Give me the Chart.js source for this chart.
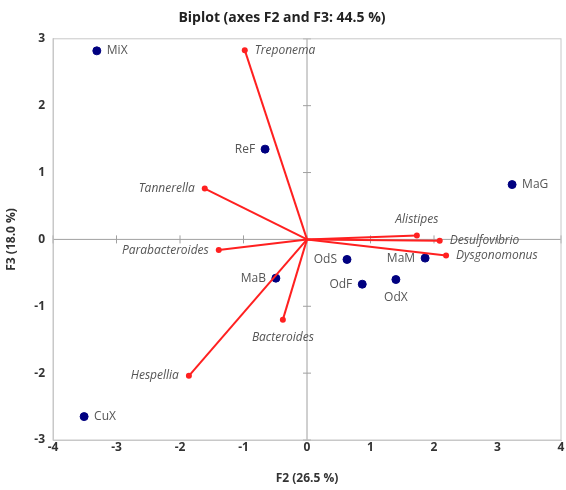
<!DOCTYPE html>
<html>
<head>
<meta charset="utf-8">
<script src="https://cdn.jsdelivr.net/npm/chart.js@4"></script>
<style>
  html, body { margin: 0; padding: 0; background: #fff; }
  #wrap { width: 566px; height: 490px; }
</style>
</head>
<body>
<div id="wrap"><canvas id="biplot"></canvas></div>
<script>
// observations (F2, F3)
const obsNames = ["MiX", "ReF", "MaG", "MaB", "OdS", "OdF", "MaM", "OdX", "CuX"];
const obsF2 = [-3.31, -0.66, 3.23, -0.49, 0.63, 0.87, 1.86, 1.40, -3.51];
const obsF3 = [2.82, 1.35, 0.82, -0.58, -0.30, -0.67, -0.28, -0.60, -2.65];
const obsLabelPos = ["right", "left", "right", "left", "left", "left", "left", "below", "right"];

// variables (F2, F3)
const varNames = ["Treponema", "Tannerella", "Parabacteroides", "Hespellia", "Bacteroides", "Alistipes", "Desulfovibrio", "Dysgonomonus"];
const varF2 = [-0.98, -1.61, -1.39, -1.86, -0.38, 1.73, 2.09, 2.19];
const varF3 = [2.83, 0.76, -0.16, -2.04, -1.20, 0.06, -0.02, -0.24];
const varLabelPos = ["right", "left", "left", "left", "below", "above", "right", "right"];

const xTicks = [-4, -3, -2, -1, 0, 1, 2, 3, 4];
const yTicks = [-3, -2, -1, 0, 1, 2, 3];

document.addEventListener("DOMContentLoaded", () => {
  const datasets = [];

  // arrows from origin
  varNames.forEach((name, i) => {
    datasets.push({
      type: "line",
      label: name,
      data: [{ x: 0, y: 0 }, { x: varF2[i], y: varF3[i] }],
      borderColor: "#ff2020",
      backgroundColor: "#ff2020",
      borderWidth: 2,
      pointRadius: [0, 3],
      pointBorderWidth: 0,
      labelPos: ["", varLabelPos[i]],
      labelText: ["", name],
      labelFont: "italic 12px 'Open Sans'",
      labelColor: "#555555",
    });
  });

  datasets.push({
    type: "scatter",
    label: "Observations",
    data: obsNames.map((n, i) => ({ x: obsF2[i], y: obsF3[i] })),
    backgroundColor: "#000080",
    borderColor: "#000080",
    pointRadius: 4,
    labelPos: obsLabelPos,
    labelText: obsNames,
    labelFont: "12px 'Open Sans'",
    labelColor: "#555555",
  });

  // zero axes with small tick marks
  const zeroAxes = {
    id: "zeroAxes",
    beforeDatasetsDraw(chart) {
      const { ctx, chartArea: a, scales: { x, y } } = chart;
      const x0 = x.getPixelForValue(0);
      const y0 = y.getPixelForValue(0);
      ctx.save();
      ctx.strokeStyle = "#a0a0a0";
      ctx.lineWidth = 1;
      ctx.beginPath();
      ctx.moveTo(a.left, y0); ctx.lineTo(a.right, y0);
      ctx.moveTo(x0, a.top); ctx.lineTo(x0, a.bottom);
      xTicks.forEach(v => {
        const px = x.getPixelForValue(v);
        ctx.moveTo(px, y0 - 4); ctx.lineTo(px, y0 + 4);
      });
      yTicks.forEach(v => {
        const py = y.getPixelForValue(v);
        ctx.moveTo(x0 - 4, py); ctx.lineTo(x0 + 4, py);
      });
      ctx.stroke();
      ctx.restore();
    }
  };

  // text labels next to points
  const pointLabels = {
    id: "pointLabels",
    afterDatasetsDraw(chart) {
      const ctx = chart.ctx;
      chart.data.datasets.forEach((ds, di) => {
        const meta = chart.getDatasetMeta(di);
        ctx.save();
        ctx.font = ds.labelFont;
        ctx.fillStyle = ds.labelColor;
        meta.data.forEach((pt, i) => {
          const txt = ds.labelText[i];
          if (!txt) return;
          const pos = ds.labelPos[i];
          let tx = pt.x, ty = pt.y;
          if (pos === "right") { ctx.textAlign = "left"; ctx.textBaseline = "middle"; tx += 10; }
          else if (pos === "left") { ctx.textAlign = "right"; ctx.textBaseline = "middle"; tx -= 10; }
          else if (pos === "below") { ctx.textAlign = "center"; ctx.textBaseline = "top"; ty += 12; }
          else if (pos === "above") { ctx.textAlign = "center"; ctx.textBaseline = "bottom"; ty -= 10; }
          ctx.fillText(txt, tx, ty);
        });
        ctx.restore();
      });
    }
  };

  const tickFont = { family: "'Open Sans'", size: 12, weight: "bold" };

  new Chart(document.getElementById("biplot"), {
    type: "scatter",
    data: { datasets },
    options: {
      responsive: true,
      maintainAspectRatio: false,
      animation: false,
      layout: { padding: { left: 0, right: 2, top: 0, bottom: 0 } },
      plugins: {
        legend: { display: false },
        tooltip: { enabled: false },
        title: {
          display: true,
          text: "Biplot (axes F2 and F3: 44.5 %)",
          color: "#222",
          font: { family: "'Open Sans'", size: 14, weight: "bold" },
          padding: { top: 10, bottom: 12 },
        },
      },
      scales: {
        x: {
          type: "linear",
          min: -4, max: 4,
          ticks: { stepSize: 1, color: "#333", font: tickFont, padding: 0 },
          grid: { display: false, drawTicks: false },
          border: { display: true, color: "#c8c8c8" },
          title: {
            display: true,
            text: "F2 (26.5 %)",
            color: "#333",
            font: { family: "'Open Sans'", size: 12, weight: "bold" },
            padding: { top: 8 },
          },
          afterFit(scale) { scale.height = 50; },
        },
        y: {
          type: "linear",
          min: -3, max: 3,
          ticks: { stepSize: 1, color: "#333", font: tickFont, padding: 8 },
          grid: { display: false, drawTicks: false },
          border: { display: true, color: "#c8c8c8" },
          title: {
            display: true,
            text: "F3 (18.0 %)",
            color: "#333",
            font: { family: "'Open Sans'", size: 12, weight: "bold" },
            padding: { top: 4, bottom: 0 },
          },
          afterFit(scale) { scale.width = 53; },
        },
      },
    },
    plugins: [zeroAxes, pointLabels,
      {
        id: "frame",
        afterDraw(chart) {
          const { ctx, chartArea: a } = chart;
          ctx.save();
          ctx.strokeStyle = "#c8c8c8";
          ctx.lineWidth = 1;
          ctx.strokeRect(a.left, a.top, a.right - a.left, a.bottom - a.top);
          ctx.restore();
        }
      }],
  });
});
</script>
</body>
</html>
